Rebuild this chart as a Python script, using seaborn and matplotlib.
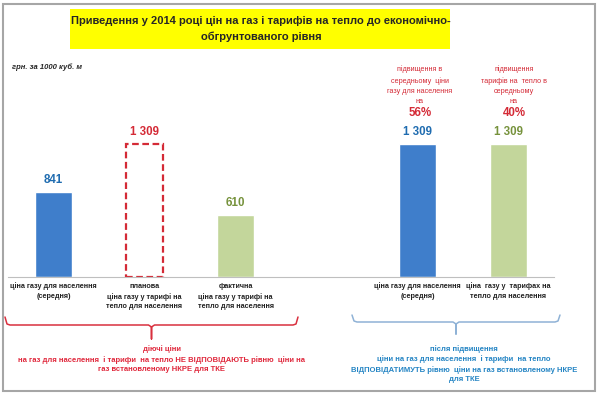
import matplotlib
matplotlib.use("Agg")
import matplotlib.pyplot as plt
import matplotlib.patches as mpatches
from matplotlib.lines import Line2D
import pandas as pd
import seaborn as sns

# data
keys = ["gas_now", "heat_plan", "heat_fact", "gap", "gas_new", "heat_new"]
values = [841, 1309, 610, None, 1309, 1309]
tick_labels = [
    "ціна газу для населення\n(середня)",
    "планова\nціна газу у тарифі на\nтепло для населення",
    "фактична\nціна газу у тарифі на\nтепло для населення",
    "",
    "ціна газу для населення\n(середня)",
    "ціна  газу у  тарифах на\nтепло для населення",
]
bar_colors = ["#3F7ECB", "#FFFFFF", "#C3D69B", "#FFFFFF", "#3F7ECB", "#C3D69B"]
label_colors = ["#1F6CB0", "#D42A36", "#76923C", "#000000", "#1F6CB0", "#76923C"]
increase_notes = ["підвищення в\nсередньому  ціни\nгазу для населення\nна",
                  "підвищення\nтарифів на  тепло в\nсередньому\nна"]
increase_pct = ["56%", "40%"]

title = "Приведення у 2014 році цін на газ і тарифів на тепло до економічно-\nобгрунтованого рівня"
units = "грн. за 1000 куб. м"
left_note = "діючі ціни\nна газ для населення  і тарифи  на тепло НЕ ВІДПОВІДАЮТЬ рівню  ціни на\nгаз встановленому НКРЕ для ТКЕ"
right_note = "після підвищення\nціни на газ для населення  і тарифи  на тепло\nВІДПОВІДАТИМУТЬ рівню  ціни на газ встановленому НКРЕ\nдля ТКЕ"

W, H = 600, 394

sns.set_style("white")
plt.rcParams["font.family"] = ["Liberation Sans", "DejaVu Sans"]


def fx(x):
    return x / W


def fy(y):
    return 1 - y / H


df = pd.DataFrame({"key": keys, "value": values}).dropna()

fig = plt.figure(figsize=(6, 3.94), dpi=100)
ax = fig.add_axes([fx(8), fy(277), (554 - 8) / W, (277 - 60) / H])

sns.barplot(data=df, x="key", y="value", order=keys, hue="key",
            palette=dict(zip(keys, bar_colors)), legend=False, width=0.4,
            saturation=1, ax=ax)

# planned price bar drawn as dashed outline
for p in ax.patches:
    cx = p.get_x() + p.get_width() / 2
    if abs(cx - 1) < 0.1:
        p.set_facecolor("none")
        p.set_edgecolor("#D42A36")
        p.set_linestyle((0, (3, 1.6)))
        p.set_linewidth(1.6)

for cont in ax.containers:
    cx = cont.patches[0].get_x() + cont.patches[0].get_width() / 2
    i = int(round(cx))
    ax.bar_label(cont, labels=[f"{values[i]:,.0f}".replace(",", " ")],
                 padding=4, color=label_colors[i], fontsize=8.3, fontweight="bold")

ax.set_xlim(-0.5, 5.5)
ax.set_ylim(0, 2136)
ax.set_xlabel("")
ax.set_ylabel("")
ax.set_yticks([])
ax.set_xticks(range(len(keys)))
ax.set_xticklabels(tick_labels, fontsize=5.2, fontweight="bold", linespacing=1.55)
ax.tick_params(axis="x", which="major", length=0, pad=4, colors="#222222")
ax.set_xticks([i - 0.5 for i in range(len(keys) + 1)], minor=True)
ax.tick_params(axis="x", which="minor", length=3, color="#BFBFBF", width=0.8)
sns.despine(ax=ax, left=True)
ax.spines["bottom"].set_color("#BFBFBF")
ax.spines["bottom"].set_linewidth(0.8)

# notes above the new-price bars
for note, pct, cx in zip(increase_notes, increase_pct, [420, 514]):
    fig.text(fx(cx), fy(85), note, ha="center", va="center", fontsize=5.2,
             color="#D42A36", linespacing=1.6)
    fig.text(fx(cx), fy(113), pct, ha="center", va="center", fontsize=8.3,
             color="#D42A36", fontweight="bold")

# title
fig.patches.append(mpatches.Rectangle((fx(70), fy(49)), (450 - 70) / W, 40 / H,
                                      transform=fig.transFigure, facecolor="#FFFF00",
                                      edgecolor="none", zorder=0))
fig.text(fx(261), fy(29), title, ha="center", va="center", fontsize=8.0,
         fontweight="bold", linespacing=1.7)
fig.text(fx(12), fy(67), units, ha="left", va="center", fontsize=5.5,
         fontweight="bold", style="italic")

# braces
def brace(x0, x1, ytop, ybar, ytip, color):
    xm = (x0 + x1) / 2
    xs = [x0, x0 + 2, x0 + 5, xm - 3, xm, xm, xm, xm + 3, x1 - 5, x1 - 2, x1]
    ys = [ytop, ybar - 1, ybar, ybar, ybar + 2, ytip, ybar + 2, ybar, ybar, ybar - 1, ytop]
    fig.add_artist(Line2D([fx(v) for v in xs], [fy(v) for v in ys],
                          transform=fig.transFigure, color=color, lw=1.1))


brace(5, 298, 317, 325, 339, "#D9303E")
brace(352, 560, 315, 322, 334, "#8FB2D6")

fig.text(fx(162), fy(359), left_note, ha="center", va="center", fontsize=5.5,
         fontweight="bold", color="#E0283C", linespacing=1.45)
fig.text(fx(464), fy(364), right_note, ha="center", va="center", fontsize=5.5,
         fontweight="bold", color="#2585C4", linespacing=1.45)

# outer frame
fig.patches.append(mpatches.Rectangle((fx(3), fy(391)), 592 / W, 387 / H,
                                      transform=fig.transFigure, facecolor="none",
                                      edgecolor="#A6A6A6", lw=1.5))

fig.savefig("out.png", dpi=100)
